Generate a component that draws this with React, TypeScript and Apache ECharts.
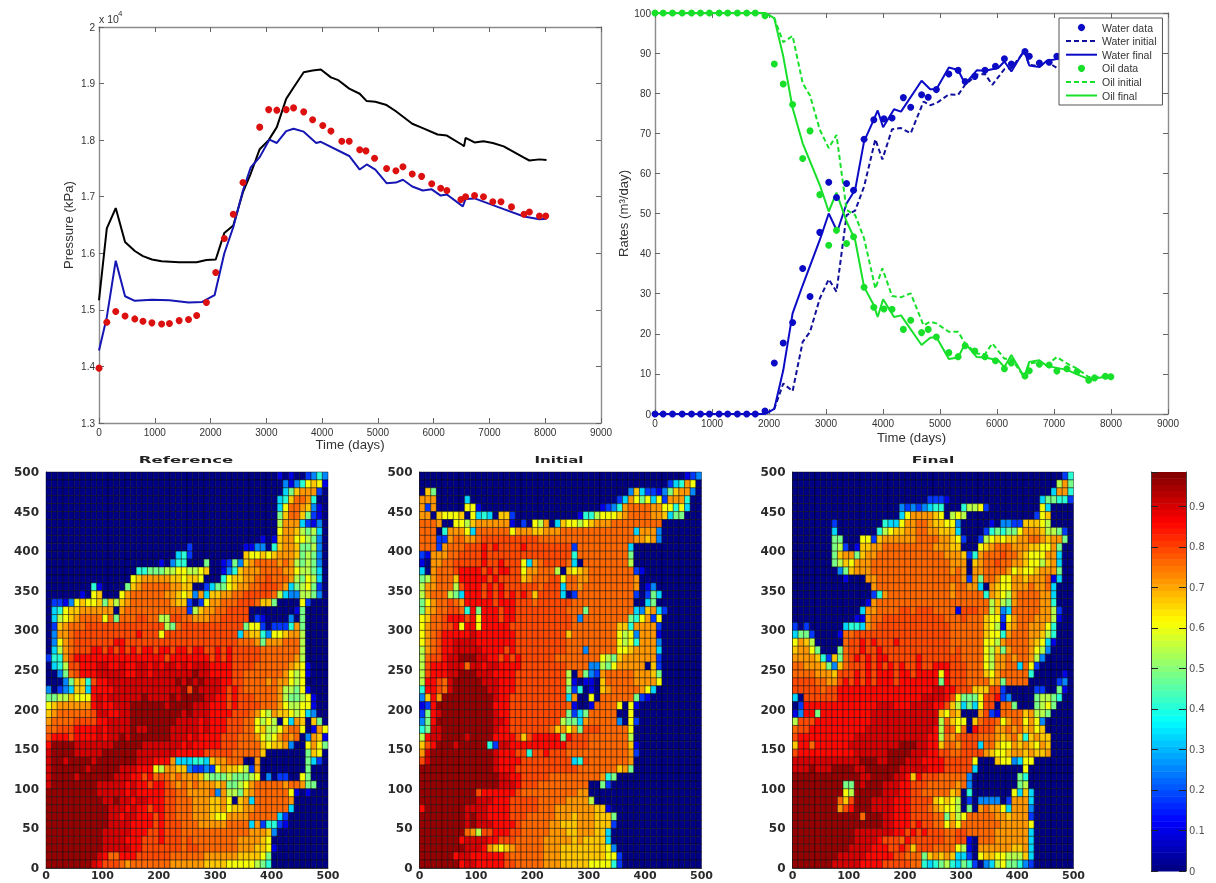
import React, { useEffect, useRef } from "react";
import * as echarts from "echarts";

const pressureData = [[0,1.397],[140,1.478],[300,1.497],[467,1.489],[642,1.484],[788,1.48],[949,1.477],[1123,1.475],[1263,1.476],[1437,1.481],[1605,1.483],[1751,1.49],[1926,1.513],[2093,1.566],[2247,1.626],[2407,1.669],[2581,1.725],[2881,1.823],[3042,1.854],[3188,1.853],[3356,1.854],[3488,1.857],[3670,1.85],[3830,1.836],[4012,1.826],[4158,1.816],[4353,1.798],[4486,1.798],[4674,1.783],[4786,1.781],[4940,1.768],[5156,1.75],[5323,1.746],[5449,1.753],[5616,1.74],[5784,1.736],[5965,1.723],[6126,1.715],[6237,1.711],[6488,1.695],[6572,1.7],[6733,1.702],[6893,1.7],[7060,1.691],[7207,1.691],[7395,1.682],[7619,1.669],[7716,1.673],[7897,1.666],[8009,1.666]];
const pressureInitial = [[0,1.517],[140,1.644],[300,1.68],[467,1.62],[642,1.604],[788,1.595],[949,1.589],[1123,1.586],[1437,1.584],[1751,1.584],[1926,1.588],[2093,1.589],[2247,1.636],[2407,1.649],[2581,1.708],[2721,1.741],[2881,1.784],[3042,1.8],[3188,1.823],[3356,1.873],[3488,1.893],[3670,1.92],[3830,1.923],[3977,1.925],[4158,1.911],[4291,1.906],[4486,1.891],[4674,1.882],[4800,1.869],[4954,1.868],[5156,1.862],[5323,1.851],[5616,1.829],[5784,1.822],[6070,1.81],[6237,1.808],[6523,1.791],[6544,1.789],[6572,1.804],[6733,1.796],[6893,1.798],[7060,1.795],[7256,1.789],[7619,1.769],[7716,1.764],[7897,1.766],[8023,1.765]];
const pressureFinal = [[0,1.428],[140,1.487],[300,1.587],[467,1.524],[642,1.516],[949,1.518],[1263,1.517],[1605,1.513],[1849,1.514],[2072,1.526],[2247,1.6],[2407,1.646],[2581,1.711],[2721,1.752],[2881,1.77],[3056,1.801],[3188,1.795],[3356,1.816],[3488,1.82],[3670,1.815],[3893,1.795],[3977,1.797],[4486,1.772],[4674,1.748],[4800,1.757],[4954,1.748],[5156,1.724],[5323,1.725],[5449,1.73],[5616,1.718],[5805,1.711],[5965,1.713],[6126,1.702],[6237,1.704],[6523,1.683],[6572,1.696],[6733,1.697],[7256,1.678],[7619,1.665],[7897,1.66],[8023,1.661]];

const waterData = [[0,0],[143,0],[307,0],[477,0],[641,0],[798,0],[955,0],[1125,0],[1275,0],[1445,0],[1609,0],[1759,0],[1930,0.75],[2093,12.7],[2250,17.7],[2414,22.8],[2591,36.3],[2720,29.3],[2891,45.3],[3048,57.8],[3184,54],[3361,57.5],[3484,55.8],[3668,68.5],[3839,73.4],[4016,73.6],[4159,73.8],[4357,78.9],[4486,76.5],[4677,79.6],[4793,79],[4936,80.9],[5155,84.8],[5318,85.7],[5441,82.9],[5611,84.2],[5789,85.7],[5973,86.7],[6130,88.6],[6252,87.3],[6491,90.4],[6566,89.2],[6743,87.5],[6914,87.7],[7050,89.2],[7227,88.7],[7405,89.4],[7609,91.6],[7711,91],[7902,90.6],[7998,90.7]];
const waterInitial = [[0,0],[1930,0],[2093,1.3],[2250,7.6],[2414,5.7],[2591,18],[2720,20.5],[2891,28.8],[3048,33.6],[3184,30.5],[3361,49.6],[3511,50.7],[3668,56.7],[3866,68.5],[3989,63.5],[4159,71],[4316,71.3],[4486,70],[4711,77.9],[4827,77],[4936,77.5],[5155,79.7],[5318,79.6],[5441,82.1],[5645,84.6],[5789,84.8],[5918,82.1],[6130,86],[6252,86.3],[6477,90.4],[6566,87.1],[6743,86.7],[6873,87.9],[7050,86.3],[7227,87.4],[7405,88.7],[7609,90.8],[7902,90.6],[7998,90.1]];
const waterFinal = [[0,0],[1930,0],[2093,1.3],[2250,10.9],[2414,25.1],[2591,32.1],[2891,43.4],[3048,50],[3198,45.5],[3361,52.5],[3511,55.9],[3668,68],[3839,73.4],[3907,75.7],[4002,71.5],[4193,76],[4316,75.4],[4677,83.1],[4827,81],[4936,81],[5155,86.4],[5318,85.8],[5441,82.3],[5645,85.7],[5789,85.6],[6020,86.3],[6130,87.9],[6252,85.4],[6477,90.7],[6566,86.9],[6743,86.5],[6873,88.1],[7050,88.5],[7227,89],[7405,90.1],[7609,91.3],[7902,90.8],[7998,90.6]];
const oilData = [[0,100],[143,100],[307,100],[477,100],[641,100],[798,100],[955,100],[1125,100],[1275,100],[1445,100],[1609,100],[1759,100],[1930,99.3],[2093,87.3],[2250,82.3],[2414,77.2],[2591,63.7],[2720,70.6],[2891,54.7],[3048,42.1],[3184,45.8],[3361,42.5],[3484,44.2],[3668,31.6],[3839,26.6],[4016,26.2],[4159,26.1],[4357,21.1],[4486,23.4],[4677,20.3],[4793,21.1],[4936,19.2],[5155,15.3],[5318,14.3],[5441,17],[5611,15.7],[5789,14.3],[5973,13.3],[6130,11.3],[6252,12.7],[6491,9.5],[6566,10.8],[6743,12.4],[6914,12.2],[7050,10.7],[7227,11.3],[7405,10.6],[7609,8.4],[7711,9],[7902,9.4],[7998,9.3]];
const oilInitial = [[0,100],[1930,100],[2093,98.7],[2250,92.7],[2414,94.3],[2591,82.5],[2720,79.4],[2891,70.9],[3048,66.3],[3184,69.6],[3361,50.9],[3511,49.6],[3668,43.8],[3866,31.3],[3989,36.3],[4159,29.4],[4316,29.1],[4486,30.1],[4711,22.1],[4827,23],[4936,22.6],[5155,20.5],[5318,20.5],[5441,17.6],[5645,15.1],[5789,14.9],[5918,17.6],[6130,13.8],[6252,13.8],[6477,9.2],[6566,12.6],[6743,13],[6873,12.2],[7050,14.2],[7227,12.6],[7405,11.3],[7609,9.2],[7902,9.4],[7998,9.9]];
const oilFinal = [[0,100],[1930,100],[2093,98.7],[2250,89.2],[2414,76.3],[2591,67.5],[2891,57.1],[3048,50.5],[3184,55.2],[3361,48],[3511,43.4],[3668,31.7],[3839,27.1],[3907,24.2],[4002,28.6],[4193,24.2],[4316,24.6],[4677,17.2],[4827,19],[4936,19.2],[5155,13.7],[5318,14.1],[5441,17.6],[5645,14.2],[5789,14.1],[6020,13.4],[6130,11.7],[6252,14.7],[6477,9.2],[6566,13],[6743,13.4],[6873,12],[7050,11.5],[7227,11],[7405,9.9],[7609,8.7],[7902,9.2],[7998,9.4]];

// Saturation cell codes -> values, as read against the colour bar
const cellValues: Record<string, number> = { ".": 0, "1": 0.1, "2": 0.18, "3": 0.26, "4": 0.33, "5": 0.41, "6": 0.48, "7": 0.54, "8": 0.615, "9": 0.67, a: 0.72, b: 0.765, c: 0.8, d: 0.85, e: 0.905, f: 0.96 };

// Each row is one y band (top row = 490..500), each character one x cell of 10 units
const referenceRows = [
".......... .......... .......... .......... .1.1..2353",
".......... .......... .......... .......... ..31358981",
".......... .......... .......... .......... ..469aaa2.",
".......... .......... .......... .......... .459bba5..",
".......... .......... .......... .......... .48bba931.",
".......... .......... .......... .......... .69bb9621.",
".......... .......... .......... .......... .7aaa4213.",
".......... .......... .......... .......... .8aa97674.",
".......... .......... .......... ........1. 19aa88763.",
".......... .......... .....2.... .....1133. 59aa96673.",
".......... .......... ...452.... .....98898 9aaa96763.",
".......... .......... 1.355...6. .12639abbb baba76763.",
".......... ......5566 677887789. .1359aaabb bbaa87764.",
".......... .....89aaa aa998998.. .5899aabbc bbba76874.",
"........51 ....69abbb bbaa99..24 6689aabbcc cba467862.",
"......1.89 ...8abbbbb baa9893a49 9aabbccccc b74337763.",
".221389889 6979abbbbb bba992.28a abbbcccb99 6....82...",
".45899aaaa aa.abbbbbb bbbbb279aa bbcccc.... ....16....",
".4789abbbb 8b6bbbccbb 77ccbbaaab bccccc.21. ...3.6....",
".29abbbccc cccccccccc c76bcccccc ccccc6882. 2225a6....",
".3aabccccc ccccccdccc 8ccccccccc cccc4a9953 889aa7....",
".38abccccc ccddcccccc cccccccccc ccccbbba6a aabbb7....",
".47abcccdd cdcdcdcddc ddcddcddcc dcdcccccbb bbbbb7....",
"255acddddd dddddddddd dcdddddddc dcdcccccbb bbbba7....",
".457ccddde eddeddeede deededeeed dddccccbbb bbba981...",
"..36bcddde eeeeddeede eeeeeefeed dddccbbbbb bba8781...",
"...36995cd deeeeeeeee eeefefefee eddccbbbba baa878....",
"3.234994dd ddeeeeeeee eeeefcfeee edcdcbbbbb ba77681...",
"66779888de deeeeeefee eefeffffee ddcdcccbbb ba766781..",
"89aaaaaade ddeeefffff feffffeeed ddcdccccbb ba877881..",
"9abbbbbbce eddeefffff ffffefeeed dddcccba87 a9987843..",
"abbbbccccd deeeefffff fffeeeeded ddcccbb878 7.84a9.96.",
"bbcccdddde deeeefeeff ffeeeeeded ddcccbb897 78abb8.1a8",
"cdddcdddde deefefffff ffeeededdd dcccbbba87 8abab.3a91",
"dffffeeeee eefffffeee eeeededddd dcccbbbb98 99a3..8a86",
"effffeeeee ffffffeeee eeedddddcc cccbbbbb9. ......698.",
"effeffffef ffffffeeed dda4445549 aabbb..a.. ......642.",
"effffffeff fffeeeddd8 7aa9932232 8a99872a.. ......6...",
"effffeffff ffeeeddcdb cbabaaa976 66766678.3 .22..86...",
"effffffffe eeeededdcd dcbababaaa 9a6678abbb bbabba66..",
"fffffffffe eeeededddd dccbbaaaab 3a7769abbb bbb81.1...",
"ffffffffff eefeedeedd dccbbbaaa9 9a8.9a4bbb bbba......",
"ffffffffff feeededdcd dccbbbaaa9 9a899aabbb bbb4......",
"ffffffffff feedeedddc dccbbbaaa9 88aaaabbbb b42.......",
"ffffffffff feeeeddddc dcccbbbaaa aabbbb4a25 521.......",
"ffffffffff eeeeedddcc dcccbbbbbb bbbbbbaaa9 3.........",
"ffffffffff eeeedddccc dcccbcbbbb bbbbaaaa98 ..........",
"ffffffffff eeeeeddccc ccccbccbbb bbbbaaa998 1.........",
"fffffffffe dbbdddcccc ccbbbbbbaa aaaa999986 ..........",
"ffffffffed cccbabbbbb bbaaaaaa99 9988888765 ..........",
];

const initialRows = [
".......... .......... .......... .......... .......123",
".......... .......... .......... .......... ....245a8.",
".96....... .......... .......... .......394 221369aa3.",
"aaa.....4. .......... .......... .....24a86 8482aaa5..",
"a2a.....88 1......... .......... ..1235abbb baa88584..",
"aa.98889.8 454.992... ........15 578889abbb baa9466...",
"bbba..8879 aaaaaa1.2. 87a.498878 9aaabbbbbb bbb.......",
"bbb.5aaa84 bbbbbb8aaa 99aaabbbbb bbbbbbbb4a aa3.......",
"bbb22abbaa bccccccccc cbbbbbbbbb bbbbbbbbaa 9a3.......",
"bbb2abbbcc cdcdccccdc ccccccc2bb bbbbbbb4.. ..........",
"21aaabbccc cdcccccccc ccccccc5bb bbbbbbb6.. ..........",
"1.aabbcccc cdccdccc84 abccccb4.b bbbbbbb7.. ..........",
"4.abbbcddd dcdcddcc8a abbb7.989a bbbbbbbb21 ..........",
"67abbb9ddd ddcdcccc9a bbbcc8bbaa bbbbbbbba. ..........",
"7aabbb7cdd dcdcdccccc cbccc4bbab bbbbbbbba. 13........",
"7abbb764dd dcdcdcdcdc 9cccc4.2bb bbbbbbbb2. 264.......",
"68abbcbadd dddcdddccc bccccccbbb bbbbbbbb.. 46........",
"69abbccb5d 6dddcddccc ccccccbbb6 bbbbbbbb43 9a42......",
"89bbcdddcd 8dddcddccc cccccccb3b bbbbbbb658 a28.......",
"8abbccd8dd 8dddddcccc cccccccbbb bbbbb995aa aa2.......",
"8abcddddde dddddddccc cccccc9bbb bbbbb8783a aa1.......",
"8abcddeeee dddddddccc ccccccbbbb bbbbb8785a aa3.......",
"7abcddeeee eddddcdccc ccccccbbb3 bbbbb889aa aa4.......",
"7bccdeefff eeddcdcdcc ccccbbbbbb bb8769aaaa aa2.......",
"7cdddeeebe edeeddddcc ccccccbbbb 33768aaaaa .92.......",
"7cdddeefff eeeddddccc cccccc7.b6 32abbbbbaa a96.......",
"7ddcbeffff feeedddccc cccccc71.1 1.9bbbbbaa aa8.......",
"5ddcbeffff ffeedddccc cccccc625. 1.9abbbbba 84........",
"39daffffff fffeddcccc cccccc4a.. 8.bbbbbb62 1.........",
"12dfffffff fffdddcccc ccccccb1.. 1bbbb8.81. ..........",
"26deffffff fffeddcccc cccccc6246 bbbbb..8.. ..........",
"36dfffffff fffeedcccc ccccc7664a bbbbb3.82. ..........",
"56eeffffff fffeddcccc cccb9a8a6c ccbbbbb8.. ..........",
"7deeffffef fffddddc9c ddddd6dccc bbbbbbb7.. ..........",
"9cdfffefff ff52eedddd ddddddcccc bbbbbbb91. ..........",
"aeffffffff fffedddcc5 ccdcccbbbb bbbbbbba2. ..........",
"ceffffffff fffeddddcc ccccccc45c bbbbbbba.. ..........",
"ffffffffff fffedddccc ccccccccbb bbbbb9a6.. ..........",
"ffffffffff ffffeeddcc cccbbbbbbb bba56..... ..........",
"ffffffffff ffffeeedcc cbbbbbbbbb ..62...... ..........",
"ffffffffff cddddddcbb bbbbbbbbaa .......... ..........",
"ffffffffff eeedddcccc cbbbbbaaaa 7......... ..........",
"dfffffffee eeddddcccc cbbbaaaaaa a991...... ..........",
"ffffffffef eeddddcccb bbbbaaa9aa a9996..... ..........",
"ffffffffef eeeddddcbb bbbaa999aa a9992..... ..........",
"ffffffffba 7ccdddccbb bbbaaa99aa a994...... ..........",
"fffffffdee eeddcccbbb bbaaaaa9a9 9994...... ..........",
"ffffffffee eda989abbb bbaaa99999 99983..... ..........",
"ffffffdeed dddddcbbbb bbaaa99999 999882.... ..........",
"fffffffdee dddddccbbb bbaaa99999 888852.... ..........",
];

const finalRows = [
".......... .......... .......... .......... ........25",
".......... .......... .......... .......... .......7a6",
".......... .......... .......... .......... ......4aa5",
".......... .......... ....2221.. .......... ....466552",
".......... .........3 2323455... 57782..... ....84....",
".......... .........4 8aaaa98.78 7......... ...289....",
".......2.. ......5448 aabba99883 .....1.332 299987....",
".......4.. .....57899 aabbaa9994 ....256566 8aaa97762.",
".......66. ..8829aaaa aabbbbaa98 2..2789899 aabba9aa6.",
".......672 .199aabbbb bbbbbaaa99 ...89abbba aa9988a6..",
".......69a a69aabbbbb bbbbbbbaaa 925abbbcbb a9888aa4..",
".......679 8aaabbbbbb bbbbbbbbaa a.9abbcbba a98879a4..",
"........36 9aaabbbbbb bbbbbbbbab a.aabbbba8 9889aaa6..",
".........1 ...aabbbbb bbbbbbbbbb a2a6bba88a a9aaab14..",
".......... ....abbbbb bbbbbbbbab baa4.a988a aabaab4...",
".......... ....25abbb bbbbbbbbab bbbb5a987a bbbbaa4...",
".......... ...1abbbbb bbbbbbbbbb bbbbb7976a bbbbaa5...",
".......... ..4aabbbbc cbcccbbbb1 cccbb7934b bbbbaa72..",
".......... .11abbcccc cccccccbbb cbbb98828a bbbaaa71..",
"2.2......4 554abccccc ccccccccbb bbbb98719a bbaaa85...",
"4662....1b bccccccccc ccccccccbb bbbb9885ab bbaa975...",
"8a97.....b ccdcdcccdc ccccccccbb bbbb887abb bba9841...",
"9aa86...6b ccdccdcccc ccccccccbc bbbb8796ab bba873....",
"aaaa95296b cdcdcddccc ccdccccccc bbbb87aaba bba73.....",
"bbaaa9639b cccdcdcdcd ccdccdddcc cbbb87aabb 4b82......",
"bbbbaaa9cc cdcdcdddcd dcdddd8dcc cbbb98abbb bb5.....1.",
"ccccbbaacd cdcdcdddcd dddddd6dcc cbbbb9a6bb bb.....23.",
"cccccbccdd dddddddddd dddddeeddc cc999cc2.. ...22..61.",
"4.ccccccdd dddddddddd dddeeeedc8 6668ccd23. ...67765..",
".2dddddddd dddddeeedd deeeeddc97 4648cc.bb6 ...6786...",
"13dd6ddddd ddddeeeeee eeeeee98a9 ...ac21bbb b9a776....",
"7cccdddddd ddddeeeeee eeeeee7b98 8.9bccb8ab b8a83.....",
"bccddddddd dddeeeeeee eeeeed7cb8 b.dcccaaba b9a89.....",
"cddddddddd deeeeeeeee eeeedd7bab cccbbba9ab 959a99....",
"9ddbdddddd eeeeeeeeef ffeedd9bba ccc4bb988a 9a98a9....",
"cddddddddd deeeeeefff feeeddccbb cccca9889a a9a99a....",
"eeeeeeeeee eefffeefff eeeddddccc cc8...9883 488.......",
"eeefeeefff feeffffffe eeeedddccc cc4....... .8........",
"ffffffffff ffeeffffee d9dcccbbbb b3........ 65........",
"fffffffff6 6fefffeeed dcccbbbbba b3........ 67........",
"fffffffff8 7fffffeeed dccbbbbb9a .5.......8 494.......",
"ffffffffb9 cfffeeeedd dcccc98987 .2.3333.2a aa4.......",
"ffffffffac dfffeeeedd dcccba9887 .6.abaa84a aa3.......",
"ffffffffff ffbfffeedd dccccbb697 8bbbbbaa9a aa2.......",
"ffffffffff ffffffeedd dcdccbb8a8 bbbbbbbaaa aa8.......",
"ffffffffff feeeeeeedd cdcdcccbbc cbbbbbaaaa aa4.......",
"ffffffffff feeeedcccb dccccccbbc c1.bbbaaaa aa4.......",
"ffffffffff eeeedddccd c9cccbbbb8 71.aaaaaa9 9a4.......",
"ffffffffee eeedddddcc bbb69a9a94 42.8998877 794.......",
"fffffffeee eeddddcccc cbb5456754 652.347866 532.......",
];

const COLOR_MAX = 0.985;
const COLOR_STEPS = 64;

function jet(v: number): string {
  const level = Math.min(COLOR_STEPS - 1, Math.floor((v / COLOR_MAX) * COLOR_STEPS));
  const t = (level + 0.5) / COLOR_STEPS;
  const c = (x: number) => Math.round(255 * Math.max(0, Math.min(1, x)));
  return `rgb(${c(1.5 - Math.abs(4 * t - 3))},${c(1.5 - Math.abs(4 * t - 2))},${c(1.5 - Math.abs(4 * t - 1))})`;
}

function toCells(rows: string[]): number[][] {
  const cells: number[][] = [];
  rows.forEach((row, r) => {
    const text = row.replace(/ /g, "").padEnd(50, ".").slice(0, 50);
    for (let i = 0; i < 50; i++) cells.push([i * 10, (49 - r) * 10, cellValues[text[i]] ?? 0]);
  });
  return cells;
}

const renderCell = (_: any, api: any) => {
  const a = api.coord([api.value(0), api.value(1) + 10]);
  const b = api.coord([api.value(0) + 10, api.value(1)]);
  return {
    type: "rect",
    shape: { x: a[0], y: a[1], width: b[0] - a[0], height: b[1] - a[1] },
    style: { fill: jet(api.value(2)), stroke: "rgba(0,0,0,0.62)", lineWidth: 0.7 },
  };
};

const renderBar = (_: any, api: any) => {
  const a = api.coord([0, (api.value(0) + 1) * (COLOR_MAX / COLOR_STEPS)]);
  const b = api.coord([1, api.value(0) * (COLOR_MAX / COLOR_STEPS)]);
  return {
    type: "rect",
    shape: { x: a[0], y: a[1], width: b[0] - a[0], height: b[1] - a[1] + 0.5 },
    style: { fill: jet((api.value(0) + 0.5) * (COLOR_MAX / COLOR_STEPS)) },
  };
};

const SANS = "'Liberation Sans', Arial, sans-serif";
const WIDE = "'DejaVu Sans', sans-serif";
const FRAME = "#8c8c8c";
const TEXT = "#333";
const plainNumber = (v: number) => String(v);

const mirror = (base: any, position: string) => ({ ...base, position, name: "", axisLabel: { show: false } });

function lineX(gridIndex: number, nameGap: number) {
  const base = {
    gridIndex, type: "value", min: 0, max: 9000, interval: 1000, splitLine: { show: false },
    axisLine: { show: true, onZero: false, lineStyle: { color: FRAME, width: 1.4 } },
    axisTick: { show: true, inside: true, length: 5, lineStyle: { color: "#666" } },
  };
  return [
    { ...base, position: "bottom", name: "Time (days)", nameLocation: "middle", nameGap,
      nameTextStyle: { fontFamily: SANS, fontSize: 13.2, color: TEXT },
      axisLabel: { fontFamily: SANS, fontSize: 10, color: TEXT, margin: 4, formatter: plainNumber } },
    mirror(base, "top"),
  ];
}

function lineY(gridIndex: number, min: number, max: number, interval: number, name: string, nameGap: number) {
  const base = {
    gridIndex, type: "value", min, max, interval, splitLine: { show: false },
    axisLine: { show: true, onZero: false, lineStyle: { color: FRAME, width: 1.4 } },
    axisTick: { show: true, inside: true, length: 5, lineStyle: { color: "#666" } },
  };
  return [
    { ...base, position: "left", name, nameLocation: "middle", nameGap,
      nameTextStyle: { fontFamily: SANS, fontSize: 13.2, color: TEXT },
      axisLabel: { fontFamily: SANS, fontSize: 10, color: TEXT, margin: 4 } },
    mirror(base, "right"),
  ];
}

const mapAxis = (gridIndex: number, position: string, interval: number, fontSize: number, margin: number) => ({
  gridIndex, type: "value", min: 0, max: 500, interval, position, splitLine: { show: false },
  axisLine: { show: true, onZero: false, lineStyle: { color: "#444", width: 1 } },
  axisTick: { show: false },
  axisLabel: { fontFamily: WIDE, fontWeight: "bold", fontSize, color: "#2a2a2a", margin },
});

const dots = (name: string, data: number[][], color: string, xAxisIndex: number, yAxisIndex: number, size: number) => ({
  name, type: "line", data, xAxisIndex, yAxisIndex, symbol: "circle", symbolSize: size, showAllSymbol: true,
  lineStyle: { width: 0, opacity: 0 }, itemStyle: { color }, clip: false,
});

const curve = (name: string, data: number[][], color: string, xAxisIndex: number, yAxisIndex: number, dashed = false) => ({
  name, type: "line", data, xAxisIndex, yAxisIndex, symbol: "none", showSymbol: false,
  lineStyle: { width: 2, color, type: dashed ? [5, 3] : "solid" }, itemStyle: { color },
});

const cellSeries = (rows: string[], index: number) => ({
  type: "custom", coordinateSystem: "cartesian2d", xAxisIndex: 4 + index, yAxisIndex: 4 + index,
  data: toCells(rows), renderItem: renderCell, silent: true, progressive: 0, encode: { x: 0, y: 1 },
});

const stretchedTitle = (text: string, x: number, scaleX: number) => ({
  type: "text", x, y: 460, scaleX, scaleY: 0.95, silent: true,
  style: { text, fontFamily: WIDE, fontWeight: "bold", fontSize: 10, fill: "#222", textAlign: "center", textVerticalAlign: "middle" },
});

const WATER = "#0b0bc6";
const WATER_DARK = "#10109a";
const OIL = "#18e02a";
const LEVELS = Array.from({ length: COLOR_STEPS }, (_, i) => [i]);
const hiddenSymbol = { opacity: 0 };

export default function App() {
  const ref = useRef<HTMLDivElement>(null);
  useEffect(() => {
    const chart = echarts.init(ref.current!, undefined, { renderer: "svg" });
    const barAxis = {
      gridIndex: 5, type: "value", min: 0, max: COLOR_MAX, interval: 0.1, splitLine: { show: false }, z: 5,
      axisLine: { show: true, onZero: false, lineStyle: { color: "#444", width: 1 } },
      axisTick: { show: true, inside: true, length: 7, lineStyle: { color: "#222", width: 1 } },
    };
    chart.setOption({
      animation: false,
      backgroundColor: "#fff",
      grid: [
        { left: 99, top: 27, width: 502, height: 396, outerBoundsMode: "none" },
        { left: 655, top: 13, width: 513, height: 401, outerBoundsMode: "none" },
        { left: 46, top: 472, width: 282, height: 396, outerBoundsMode: "none" },
        { left: 419.5, top: 472, width: 282, height: 396, outerBoundsMode: "none" },
        { left: 792.5, top: 472, width: 281, height: 396, outerBoundsMode: "none" },
        { left: 1151, top: 472, width: 35, height: 399, outerBoundsMode: "none" },
      ],
      xAxis: [
        ...lineX(0, 15),
        ...lineX(1, 17),
        mapAxis(2, "bottom", 100, 11, 2), mapAxis(3, "bottom", 100, 11, 2), mapAxis(4, "bottom", 100, 11, 2),
        { gridIndex: 5, type: "value", min: 0, max: 1, show: false },
      ],
      yAxis: [
        ...lineY(0, 1.3, 2, 0.1, "Pressure (kPa)", 24),
        ...lineY(1, 0, 100, 10, "Rates (m³/day)", 24),
        mapAxis(2, "left", 50, 12, 7), mapAxis(3, "left", 50, 12, 7), mapAxis(4, "left", 50, 12, 7),
        { ...barAxis, position: "left", axisLabel: { show: false } },
        { ...barAxis, position: "right",
          axisLabel: { showMaxLabel: false, fontFamily: WIDE, fontSize: 10, color: "#555", margin: 3 } },
      ],
      legend: {
        orient: "vertical", left: 1059, top: 18, padding: [4, 6, 4, 6], itemWidth: 31, itemHeight: 9, itemGap: 2.6,
        backgroundColor: "#fff", borderColor: "#555", borderWidth: 1,
        textStyle: { fontFamily: SANS, fontSize: 10.5, color: TEXT },
        selectedMode: false,
        data: [
          { name: "Water data" },
          { name: "Water initial", itemStyle: hiddenSymbol },
          { name: "Water final", itemStyle: hiddenSymbol },
          { name: "Oil data" },
          { name: "Oil initial", itemStyle: hiddenSymbol },
          { name: "Oil final", itemStyle: hiddenSymbol },
        ],
      },
      series: [
        dots("Pressure data", pressureData, "#dd1010", 0, 0, 7),
        curve("Pressure initial", pressureInitial, "#000", 0, 0),
        curve("Pressure final", pressureFinal, "#1616b4", 0, 0),
        dots("Water data", waterData, WATER, 2, 2, 7),
        curve("Water initial", waterInitial, WATER_DARK, 2, 2, true),
        curve("Water final", waterFinal, WATER, 2, 2),
        dots("Oil data", oilData, OIL, 2, 2, 7),
        curve("Oil initial", oilInitial, OIL, 2, 2, true),
        curve("Oil final", oilFinal, OIL, 2, 2),
        cellSeries(referenceRows, 0),
        cellSeries(initialRows, 1),
        cellSeries(finalRows, 2),
        { type: "custom", coordinateSystem: "cartesian2d", xAxisIndex: 7, yAxisIndex: 7, data: LEVELS,
          renderItem: renderBar, silent: true, encode: { y: 0 }, progressive: 0 },
      ],
      graphic: [
        { type: "text", x: 99, y: 13, silent: true, style: { text: "x 10", fontFamily: SANS, fontSize: 10.5, fill: TEXT } },
        { type: "text", x: 118, y: 9, silent: true, style: { text: "4", fontFamily: SANS, fontSize: 8, fill: TEXT } },
        stretchedTitle("Reference", 186, 1.65),
        stretchedTitle("Initial", 559, 1.5),
        stretchedTitle("Final", 933, 1.55),
      ],
    });
    return () => chart.dispose();
  }, []);
  return <div ref={ref} style={{ position: "absolute", left: 0, top: 0, width: 1216, height: 883, filter: "blur(0.4px)" }} />;
}
